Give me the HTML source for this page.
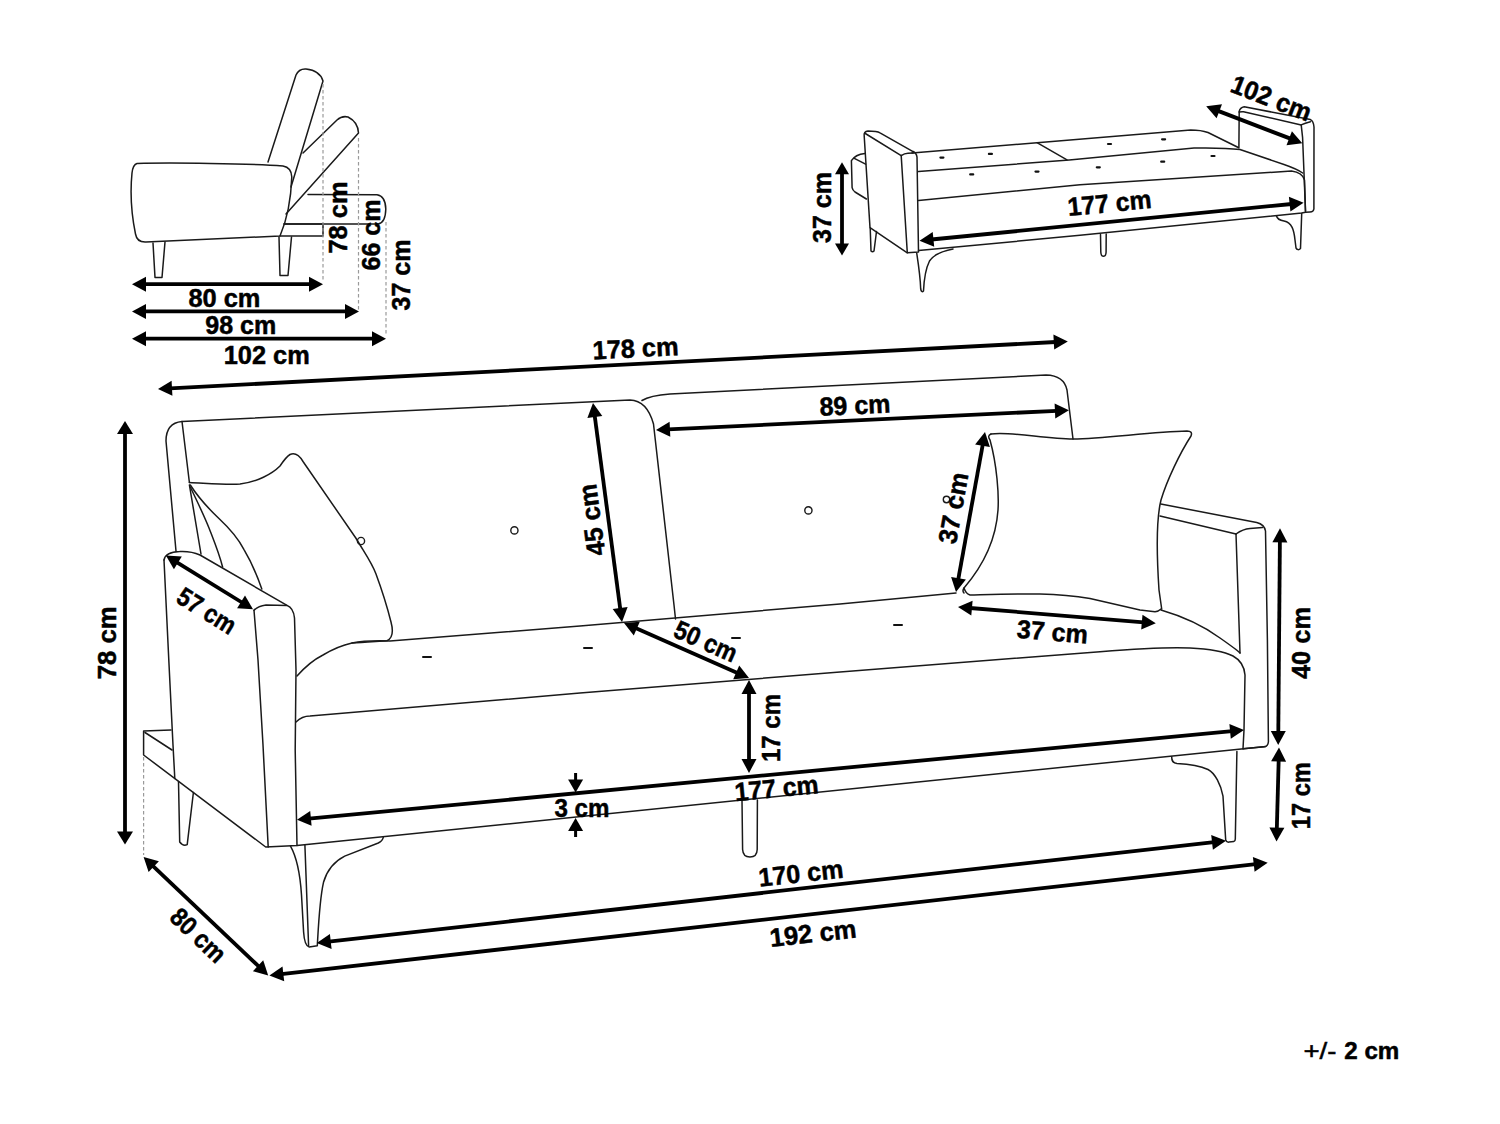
<!DOCTYPE html>
<html><head><meta charset="utf-8"><style>
html,body{margin:0;padding:0;background:#fff;}
svg{display:block;font-family:"Liberation Sans",sans-serif;}
</style></head><body>
<svg width="1500" height="1124" viewBox="0 0 1500 1124">
<rect width="1500" height="1124" fill="#fff"/>
<path d="M137,163.5 C170,162.5 250,163.5 283,166 Q291.5,167.5 291.8,177 C291,200 286,222 280,236 L146,242 Q137,242.5 135.5,234 C131,212 130.5,188 132,173 Q133,164.5 137,163.5 Z" fill="none" stroke="#1a1a1a" stroke-width="1.5" stroke-linecap="round" stroke-linejoin="round"/>
<path d="M153,243 L155,277.5 L162,277.5 L165,242" fill="none" stroke="#1a1a1a" stroke-width="1.5" stroke-linecap="round" stroke-linejoin="round"/>
<path d="M279,237 L280,275.5 L288,275.5 L291.5,237" fill="none" stroke="#1a1a1a" stroke-width="1.5" stroke-linecap="round" stroke-linejoin="round"/>
<path d="M268,162 L296,75 Q299,68.5 306,69 Q320,70.5 323,81 L291,187" fill="none" stroke="#1a1a1a" stroke-width="1.5" stroke-linecap="round" stroke-linejoin="round"/>
<path d="M303,153 L337,120 Q342,115.5 348,117 Q358,122 358.5,133 L286,214" fill="none" stroke="#1a1a1a" stroke-width="1.5" stroke-linecap="round" stroke-linejoin="round"/>
<path d="M308,194.5 L377,194.8 Q385.5,196 385.8,209 Q385.5,223 378,224 L284,224" fill="none" stroke="#1a1a1a" stroke-width="1.5" stroke-linecap="round" stroke-linejoin="round"/>
<path d="M284,224 L323,224 L323,236 L280,236" fill="none" stroke="#1a1a1a" stroke-width="1.5" stroke-linecap="round" stroke-linejoin="round"/>
<line x1="323" y1="84" x2="323" y2="282" stroke="#9a9a9a" stroke-width="1.2" stroke-dasharray="3.5,2.5"/>
<line x1="358.5" y1="138" x2="358.5" y2="310" stroke="#9a9a9a" stroke-width="1.2" stroke-dasharray="3.5,2.5"/>
<line x1="386" y1="222" x2="386" y2="336" stroke="#9a9a9a" stroke-width="1.2" stroke-dasharray="3.5,2.5"/>
<polygon points="132.0,284.2 146.0,276.7 146.0,291.7" fill="#000"/>
<polygon points="323.0,284.2 309.0,291.7 309.0,276.7" fill="#000"/>
<line x1="144.0" y1="284.2" x2="311.0" y2="284.2" stroke="#000" stroke-width="3.8"/>
<polygon points="132.0,311.4 146.0,303.9 146.0,318.9" fill="#000"/>
<polygon points="359.0,311.4 345.0,318.9 345.0,303.9" fill="#000"/>
<line x1="144.0" y1="311.4" x2="347.0" y2="311.4" stroke="#000" stroke-width="3.8"/>
<polygon points="132.0,338.7 146.0,331.2 146.0,346.2" fill="#000"/>
<polygon points="386.0,338.7 372.0,346.2 372.0,331.2" fill="#000"/>
<line x1="144.0" y1="338.7" x2="374.0" y2="338.7" stroke="#000" stroke-width="3.8"/>
<text x="0" y="0" transform="translate(224.4,307.2) rotate(0.00)" text-anchor="middle" font-size="26" font-weight="bold" stroke="#000" stroke-width="0.5" textLength="72.0" lengthAdjust="spacingAndGlyphs">80 cm</text>
<text x="0" y="0" transform="translate(240.8,334.4) rotate(0.00)" text-anchor="middle" font-size="26" font-weight="bold" stroke="#000" stroke-width="0.5" textLength="71.0" lengthAdjust="spacingAndGlyphs">98 cm</text>
<text x="0" y="0" transform="translate(266.7,363.9) rotate(0.00)" text-anchor="middle" font-size="26" font-weight="bold" stroke="#000" stroke-width="0.5" textLength="86.0" lengthAdjust="spacingAndGlyphs">102 cm</text>
<text x="0" y="0" transform="translate(347.2,217.5) rotate(-90.00)" text-anchor="middle" font-size="26" font-weight="bold" stroke="#000" stroke-width="0.5" textLength="72.0" lengthAdjust="spacingAndGlyphs">78 cm</text>
<text x="0" y="0" transform="translate(380.2,235.0) rotate(-90.00)" text-anchor="middle" font-size="26" font-weight="bold" stroke="#000" stroke-width="0.5" textLength="71.0" lengthAdjust="spacingAndGlyphs">66 cm</text>
<text x="0" y="0" transform="translate(410.2,275.0) rotate(-90.00)" text-anchor="middle" font-size="26" font-weight="bold" stroke="#000" stroke-width="0.5" textLength="71.0" lengthAdjust="spacingAndGlyphs">37 cm</text>
<path d="M865,153.5 C860,154 854,156.5 851.4,160.6 L852.1,187.6 Q852.5,190 855,192 L866.4,199" fill="none" stroke="#1a1a1a" stroke-width="1.5" stroke-linecap="round" stroke-linejoin="round"/>
<path d="M854.3,158.4 L865.6,164.1" fill="none" stroke="#1a1a1a" stroke-width="1.5" stroke-linecap="round" stroke-linejoin="round"/>
<path d="M870,227.6 L864.2,136 Q863.5,131.5 868,131 L875.6,131.4 Q878.5,131.8 880,132.8 L912.6,151.3 Q916.5,153 917,157 L918.5,252 L907.3,252.8 Z" fill="none" stroke="#1a1a1a" stroke-width="1.5" stroke-linecap="round" stroke-linejoin="round"/>
<path d="M865.3,133.5 L901.2,155.6 Q904.5,153.2 908,153.2 L913.3,153.1" fill="none" stroke="#1a1a1a" stroke-width="1.5" stroke-linecap="round" stroke-linejoin="round"/>
<path d="M901.2,155.6 L907.3,252.8" fill="none" stroke="#1a1a1a" stroke-width="1.5" stroke-linecap="round" stroke-linejoin="round"/>
<path d="M870.2,228 L871,251 Q872.5,252.5 874,251 L876.5,231.5" fill="none" stroke="#1a1a1a" stroke-width="1.5" stroke-linecap="round" stroke-linejoin="round"/>
<path d="M916.7,253 C919,268 920.5,282 920.7,289 Q921.5,293 923.5,291 C924,280 925,270 929.5,261 C935,253 945,250.5 953,249" fill="none" stroke="#1a1a1a" stroke-width="1.5" stroke-linecap="round" stroke-linejoin="round"/>
<path d="M912,153 L1037,142.7 L1190.7,130 Q1201,130 1208,132.5 L1238.3,147.5" fill="none" stroke="#1a1a1a" stroke-width="1.5" stroke-linecap="round" stroke-linejoin="round"/>
<path d="M1037,142.7 L1067,159.8" fill="none" stroke="#1a1a1a" stroke-width="1.5" stroke-linecap="round" stroke-linejoin="round"/>
<path d="M918.5,171.6 L1069.3,159.9 L1194,148 Q1225,147.5 1240,149.5 L1284,164.5 Q1297,169 1302.7,173" fill="none" stroke="#1a1a1a" stroke-width="1.5" stroke-linecap="round" stroke-linejoin="round"/>
<path d="M918.5,200.5 L1080,184.7 L1291.5,171 Q1302.5,172.5 1304.5,180 L1305.5,211.5" fill="none" stroke="#1a1a1a" stroke-width="1.5" stroke-linecap="round" stroke-linejoin="round"/>
<path d="M918.5,250.5 L1080,235.3 L1301.7,213 L1305.5,212.3" fill="none" stroke="#1a1a1a" stroke-width="1.5" stroke-linecap="round" stroke-linejoin="round"/>
<path d="M1238.9,148 L1239.2,111.4 Q1240,107.5 1244.2,106.7 L1310.4,119.6 Q1313.5,121 1314,127 L1313.9,209 Q1313.5,212 1310,212 L1305.5,212.3" fill="none" stroke="#1a1a1a" stroke-width="1.5" stroke-linecap="round" stroke-linejoin="round"/>
<path d="M1239.2,112 Q1241,111.5 1243.5,111.7 L1301.2,124.9 Q1305,123 1310.4,121.7" fill="none" stroke="#1a1a1a" stroke-width="1.5" stroke-linecap="round" stroke-linejoin="round"/>
<path d="M1301.2,124.9 L1302.6,137.7 L1305.5,211" fill="none" stroke="#1a1a1a" stroke-width="1.5" stroke-linecap="round" stroke-linejoin="round"/>
<path d="M1276.5,216 Q1277.5,220 1284,221 C1292,222.5 1294,230 1295,240 L1296,248 Q1298,251 1300.5,248.5 L1301.7,213.5" fill="none" stroke="#1a1a1a" stroke-width="1.5" stroke-linecap="round" stroke-linejoin="round"/>
<path d="M1100.5,234.5 L1100.8,252 Q1101,256.3 1103.4,256.3 Q1106,256.3 1106.1,252 L1106.2,234" fill="none" stroke="#1a1a1a" stroke-width="1.5" stroke-linecap="round" stroke-linejoin="round"/>
<line x1="940.4" y1="157.6" x2="943.4" y2="157.6" stroke="#111" stroke-width="2.2" stroke-linecap="round"/>
<line x1="988.9" y1="153.9" x2="991.9" y2="153.9" stroke="#111" stroke-width="2.2" stroke-linecap="round"/>
<line x1="970.2" y1="174.4" x2="973.2" y2="174.4" stroke="#111" stroke-width="2.2" stroke-linecap="round"/>
<line x1="1035.5" y1="171.6" x2="1038.5" y2="171.6" stroke="#111" stroke-width="2.2" stroke-linecap="round"/>
<line x1="1108.0" y1="144" x2="1111.0" y2="144" stroke="#111" stroke-width="2.2" stroke-linecap="round"/>
<line x1="1162.1" y1="139.3" x2="1165.1" y2="139.3" stroke="#111" stroke-width="2.2" stroke-linecap="round"/>
<line x1="1096.8" y1="167.3" x2="1099.8" y2="167.3" stroke="#111" stroke-width="2.2" stroke-linecap="round"/>
<line x1="1161.2" y1="161.7" x2="1164.2" y2="161.7" stroke="#111" stroke-width="2.2" stroke-linecap="round"/>
<line x1="1211.5" y1="156" x2="1214.5" y2="156" stroke="#111" stroke-width="2.2" stroke-linecap="round"/>
<polygon points="842.0,162.3 849.0,174.3 835.0,174.3" fill="#000"/>
<polygon points="842.0,255.6 835.0,243.6 849.0,243.6" fill="#000"/>
<line x1="842.0" y1="172.3" x2="842.0" y2="245.6" stroke="#000" stroke-width="3.8"/>
<polygon points="919.5,240.7 932.7,231.9 934.2,246.8" fill="#000"/>
<polygon points="1303.6,202.8 1290.4,211.6 1288.9,196.7" fill="#000"/>
<line x1="931.4" y1="239.5" x2="1291.7" y2="204.0" stroke="#000" stroke-width="3.8"/>
<polygon points="1206.2,106.3 1222.0,104.3 1216.6,118.3" fill="#000"/>
<polygon points="1302.3,143.2 1286.5,145.2 1291.9,131.2" fill="#000"/>
<line x1="1217.4" y1="110.6" x2="1291.1" y2="138.9" stroke="#000" stroke-width="4"/>
<text x="0" y="0" transform="translate(831.0,207.5) rotate(-90.00)" text-anchor="middle" font-size="26" font-weight="bold" stroke="#000" stroke-width="0.5" textLength="71.0" lengthAdjust="spacingAndGlyphs">37 cm</text>
<text x="0" y="0" transform="translate(1110.4,212.0) rotate(-5.60)" text-anchor="middle" font-size="26" font-weight="bold" stroke="#000" stroke-width="0.5" textLength="84.0" lengthAdjust="spacingAndGlyphs">177 cm</text>
<text x="0" y="0" transform="translate(1268.1,106.6) rotate(21.30)" text-anchor="middle" font-size="26" font-weight="bold" stroke="#000" stroke-width="0.5" textLength="84.0" lengthAdjust="spacingAndGlyphs">102 cm</text>
<path d="M176,551 L166,441 Q166,423 182,421.5 L630,400 Q647,400.5 653.5,424 L674,605 L675.5,619" fill="none" stroke="#1a1a1a" stroke-width="1.5" stroke-linecap="round" stroke-linejoin="round"/>
<path d="M182,421.5 L189.4,482.5" fill="none" stroke="#1a1a1a" stroke-width="1.5" stroke-linecap="round" stroke-linejoin="round"/>
<path d="M642,400.5 Q650,395.5 670,394 L1046,375 Q1064,375.5 1067,390 L1073,439" fill="none" stroke="#1a1a1a" stroke-width="1.5" stroke-linecap="round" stroke-linejoin="round"/>
<path d="M189.4,482.5 C210,483.5 228,485 240,484 C257,482 272,474 280,466 Q286,457 290,454.5 Q297,451.5 303,461.5 L355.8,538 C366,555 372,563 376,574 C383,593 388,610 391,622 Q395,637 387,640.7 C375,641.5 362,642.5 352,643" fill="none" stroke="#1a1a1a" stroke-width="1.5" stroke-linecap="round" stroke-linejoin="round"/>
<path d="M189.4,485 L201,554" fill="none" stroke="#1a1a1a" stroke-width="1.5" stroke-linecap="round" stroke-linejoin="round"/>
<path d="M190.3,487 C198,503 205,518 209,528 C214,541 219,553 222.6,567" fill="none" stroke="#1a1a1a" stroke-width="1.5" stroke-linecap="round" stroke-linejoin="round"/>
<path d="M190.3,485 C200,500 210,510 218.7,518.3 C228,527 238,538 244,549.6 C252,563 257,575 261.8,589" fill="none" stroke="#1a1a1a" stroke-width="1.5" stroke-linecap="round" stroke-linejoin="round"/>
<circle cx="361" cy="541" r="3.6" fill="none" stroke="#1a1a1a" stroke-width="1.4"/>
<path d="M164,560 Q165.5,552 179.6,551.6 Q191,551 200,555 L287,605.4 Q293.5,608 294.5,618 L296,670 L295.2,750 L297,845.5 L265.7,847 L143.6,755 L143.6,731 L171,730" fill="none" stroke="#1a1a1a" stroke-width="1.5" stroke-linecap="round" stroke-linejoin="round"/>
<path d="M254,610.3 Q258,606 266,605 L287,605.4" fill="none" stroke="#1a1a1a" stroke-width="1.5" stroke-linecap="round" stroke-linejoin="round"/>
<path d="M254,610.3 L258,660 L263,745 L268.2,847" fill="none" stroke="#1a1a1a" stroke-width="1.5" stroke-linecap="round" stroke-linejoin="round"/>
<path d="M164,560 L168.8,660 L173,745 L174.8,778.5" fill="none" stroke="#1a1a1a" stroke-width="1.5" stroke-linecap="round" stroke-linejoin="round"/>
<path d="M145,732.5 L172,750" fill="none" stroke="#1a1a1a" stroke-width="1.5" stroke-linecap="round" stroke-linejoin="round"/>
<path d="M178.5,781.5 L179.7,842 Q183,846.5 187.2,844.6 L193.4,792.5" fill="none" stroke="#1a1a1a" stroke-width="1.5" stroke-linecap="round" stroke-linejoin="round"/>
<path d="M297,676 C305,667 315,659 323,655 C333,649 343,645 352,643 C362,641 375,640.5 390,641 L580,626 L840,604 L956,593" fill="none" stroke="#1a1a1a" stroke-width="1.5" stroke-linecap="round" stroke-linejoin="round"/>
<path d="M964,588 Q966,594 970,595 C990,594.5 1020,593.5 1040,594 C1060,594.5 1075,596 1090,598.5 L1140,610 L1155,611.7 Q1158.5,611.5 1161,609" fill="none" stroke="#1a1a1a" stroke-width="1.5" stroke-linecap="round" stroke-linejoin="round"/>
<path d="M991,434 C1010,431 1045,439 1073,439 C1105,438.5 1150,432 1187,431 Q1193,431 1191,436 C1180,453 1167,480 1161,500 C1156,520 1157,560 1159,590 L1161.7,609" fill="none" stroke="#1a1a1a" stroke-width="1.5" stroke-linecap="round" stroke-linejoin="round"/>
<path d="M991,434 Q987,435.5 990,440 C997,465 999,495 998,510 C996,540 982,567 964,588 Q962,591 964,593" fill="none" stroke="#1a1a1a" stroke-width="1.5" stroke-linecap="round" stroke-linejoin="round"/>
<path d="M1160.8,504 L1256.7,522.5 Q1264.5,524.5 1265.5,531 L1267.4,640 L1268.4,741.8 Q1268,746.5 1264.4,746.7 L1243,748.7" fill="none" stroke="#1a1a1a" stroke-width="1.5" stroke-linecap="round" stroke-linejoin="round"/>
<path d="M1160,516 L1236,534" fill="none" stroke="#1a1a1a" stroke-width="1.5" stroke-linecap="round" stroke-linejoin="round"/>
<path d="M1236,534 Q1243,529 1250,528.5 L1262.5,527.5" fill="none" stroke="#1a1a1a" stroke-width="1.5" stroke-linecap="round" stroke-linejoin="round"/>
<path d="M1236,534 L1240,653" fill="none" stroke="#1a1a1a" stroke-width="1.5" stroke-linecap="round" stroke-linejoin="round"/>
<path d="M296,722 C300,718 305,716 310,716 L580,693 L840,672 L1100,651.7 C1140,648.5 1170,647 1190,648 C1210,649 1225,652 1233,656 Q1244,662 1245,675 L1244,730 L1243,748.7" fill="none" stroke="#1a1a1a" stroke-width="1.5" stroke-linecap="round" stroke-linejoin="round"/>
<path d="M1161,610 C1185,617 1205,627 1220,638 C1230,645 1237,650 1240,653" fill="none" stroke="#1a1a1a" stroke-width="1.5" stroke-linecap="round" stroke-linejoin="round"/>
<path d="M297,845.5 L1265.7,746.5" fill="none" stroke="#1a1a1a" stroke-width="1.5" stroke-linecap="round" stroke-linejoin="round"/>
<path d="M290.5,846.2 C296,856 300,872 301.5,895 L303.6,932 Q304.5,946 309.2,947 L317.3,945.8 C318.5,925 319.5,900 323.5,882.3 C327,870 335,861 344.7,856.1 L378.3,843 Q382.5,841 383.3,837.4" fill="none" stroke="#1a1a1a" stroke-width="1.5" stroke-linecap="round" stroke-linejoin="round"/>
<path d="M304.9,845 L308.6,945.8" fill="none" stroke="#1a1a1a" stroke-width="1.5" stroke-linecap="round" stroke-linejoin="round"/>
<path d="M742,800 L742.6,849.5 Q743,857 750,857 Q757,857 757.2,849.5 L757.4,800" fill="none" stroke="#1a1a1a" stroke-width="1.5" stroke-linecap="round" stroke-linejoin="round"/>
<path d="M1171.7,756.7 Q1171.5,763 1177,763.6 C1185,764 1198,765 1208,769.5 C1215,773 1221,785 1223,796.2 L1225.7,840 Q1226.5,842.5 1229,842.1 L1233.7,841.6 Q1235.3,841 1235.3,838.9 L1236.9,751.4" fill="none" stroke="#1a1a1a" stroke-width="1.5" stroke-linecap="round" stroke-linejoin="round"/>
<circle cx="514.4" cy="530.4" r="3.6" fill="none" stroke="#1a1a1a" stroke-width="1.4"/>
<circle cx="808.4" cy="510.4" r="3.6" fill="none" stroke="#1a1a1a" stroke-width="1.4"/>
<circle cx="946.5" cy="499.5" r="3.2" fill="none" stroke="#1a1a1a" stroke-width="1.4"/>
<line x1="423.0" y1="657" x2="431.0" y2="657" stroke="#111" stroke-width="2" stroke-linecap="round"/>
<line x1="584.0" y1="648" x2="592.0" y2="648" stroke="#111" stroke-width="2" stroke-linecap="round"/>
<line x1="732.0" y1="638" x2="740.0" y2="638" stroke="#111" stroke-width="2" stroke-linecap="round"/>
<line x1="894.0" y1="625" x2="902.0" y2="625" stroke="#111" stroke-width="2" stroke-linecap="round"/>
<line x1="143.6" y1="757" x2="143.6" y2="855" stroke="#9a9a9a" stroke-width="1.2" stroke-dasharray="3.5,2.5"/>
<polygon points="158.0,389.0 171.6,380.8 172.4,395.8" fill="#000"/>
<polygon points="1067.8,341.4 1054.2,349.6 1053.4,334.6" fill="#000"/>
<line x1="170.0" y1="388.4" x2="1055.8" y2="342.0" stroke="#000" stroke-width="3.8"/>
<polygon points="125.0,421.0 133.0,434.0 117.0,434.0" fill="#000"/>
<polygon points="125.0,844.6 117.0,831.6 133.0,831.6" fill="#000"/>
<line x1="125.0" y1="432.0" x2="125.0" y2="833.6" stroke="#000" stroke-width="3.8"/>
<polygon points="165.9,555.5 181.8,556.5 173.9,569.2" fill="#000"/>
<polygon points="253.0,609.3 237.1,608.3 245.0,595.6" fill="#000"/>
<line x1="176.1" y1="561.8" x2="242.8" y2="603.0" stroke="#000" stroke-width="3.8"/>
<polygon points="143.6,857.0 158.9,861.2 148.6,872.1" fill="#000"/>
<polygon points="268.2,975.4 252.9,971.2 263.2,960.3" fill="#000"/>
<line x1="152.3" y1="865.3" x2="259.5" y2="967.1" stroke="#000" stroke-width="3.8"/>
<polygon points="593.0,403.0 602.3,415.9 587.4,417.9" fill="#000"/>
<polygon points="622.0,622.0 612.7,609.1 627.6,607.1" fill="#000"/>
<line x1="594.6" y1="414.9" x2="620.4" y2="610.1" stroke="#000" stroke-width="3.8"/>
<polygon points="656.0,430.0 669.6,421.8 670.3,436.8" fill="#000"/>
<polygon points="1068.9,410.2 1055.3,418.4 1054.6,403.4" fill="#000"/>
<line x1="668.0" y1="429.4" x2="1056.9" y2="410.8" stroke="#000" stroke-width="3.8"/>
<polygon points="985.0,432.0 989.9,447.1 975.1,444.4" fill="#000"/>
<polygon points="956.0,592.0 951.1,576.9 965.9,579.6" fill="#000"/>
<line x1="982.9" y1="443.8" x2="958.1" y2="580.2" stroke="#000" stroke-width="3.8"/>
<polygon points="958.0,607.0 972.6,600.7 971.3,615.6" fill="#000"/>
<polygon points="1155.8,623.3 1141.2,629.6 1142.5,614.7" fill="#000"/>
<line x1="970.0" y1="608.0" x2="1143.8" y2="622.3" stroke="#000" stroke-width="3.8"/>
<polygon points="624.0,623.0 639.8,621.8 633.8,635.5" fill="#000"/>
<polygon points="749.0,678.0 733.2,679.2 739.2,665.5" fill="#000"/>
<line x1="635.0" y1="627.8" x2="738.0" y2="673.2" stroke="#000" stroke-width="3.8"/>
<polygon points="749.0,680.0 756.5,694.0 741.5,694.0" fill="#000"/>
<polygon points="749.0,773.0 741.5,759.0 756.5,759.0" fill="#000"/>
<line x1="749.0" y1="692.0" x2="749.0" y2="761.0" stroke="#000" stroke-width="3.8"/>
<polygon points="1280.0,528.3 1287.4,542.4 1272.4,542.2" fill="#000"/>
<polygon points="1278.2,745.0 1270.8,730.9 1285.8,731.1" fill="#000"/>
<line x1="1279.9" y1="540.3" x2="1278.3" y2="733.0" stroke="#000" stroke-width="3.8"/>
<polygon points="1279.0,747.5 1286.1,761.7 1271.1,761.3" fill="#000"/>
<polygon points="1276.5,841.6 1269.4,827.4 1284.4,827.8" fill="#000"/>
<line x1="1278.7" y1="759.5" x2="1276.8" y2="829.6" stroke="#000" stroke-width="3.8"/>
<polygon points="297.0,819.7 310.2,810.9 311.6,825.8" fill="#000"/>
<polygon points="1244.0,730.0 1230.8,738.8 1229.4,723.9" fill="#000"/>
<line x1="308.9" y1="818.6" x2="1232.1" y2="731.1" stroke="#000" stroke-width="3.8"/>
<polygon points="316.8,943.0 329.9,934.0 331.6,948.9" fill="#000"/>
<polygon points="1226.0,840.8 1212.9,849.8 1211.2,834.9" fill="#000"/>
<line x1="328.7" y1="941.7" x2="1214.1" y2="842.1" stroke="#000" stroke-width="3.8"/>
<polygon points="269.4,975.4 282.5,966.4 284.2,981.3" fill="#000"/>
<polygon points="1267.7,862.8 1254.6,871.8 1252.9,856.9" fill="#000"/>
<line x1="281.3" y1="974.1" x2="1255.8" y2="864.1" stroke="#000" stroke-width="3.8"/>
<polygon points="575.6,792.5 568.1,779.5 583.1,779.5" fill="#000"/>
<line x1="575.6" y1="773.0" x2="575.6" y2="781.5" stroke="#000" stroke-width="3"/>
<polygon points="575.6,818.0 583.1,831.0 568.1,831.0" fill="#000"/>
<line x1="575.6" y1="837.0" x2="575.6" y2="829.0" stroke="#000" stroke-width="3"/>
<text x="0" y="0" transform="translate(636.0,357.2) rotate(-3.00)" text-anchor="middle" font-size="26" font-weight="bold" stroke="#000" stroke-width="0.5" textLength="86.0" lengthAdjust="spacingAndGlyphs">178 cm</text>
<text x="0" y="0" transform="translate(116.0,642.8) rotate(-90.00)" text-anchor="middle" font-size="26" font-weight="bold" stroke="#000" stroke-width="0.5" textLength="73.0" lengthAdjust="spacingAndGlyphs">78 cm</text>
<text x="0" y="0" transform="translate(202.1,618.4) rotate(31.70)" text-anchor="middle" font-size="26" font-weight="bold" stroke="#000" stroke-width="0.5" textLength="64.0" lengthAdjust="spacingAndGlyphs">57 cm</text>
<text x="0" y="0" transform="translate(192.1,941.7) rotate(43.50)" text-anchor="middle" font-size="26" font-weight="bold" stroke="#000" stroke-width="0.5" textLength="66.0" lengthAdjust="spacingAndGlyphs">80 cm</text>
<text x="0" y="0" transform="translate(600.7,518.8) rotate(-97.50)" text-anchor="middle" font-size="26" font-weight="bold" stroke="#000" stroke-width="0.5" textLength="72.0" lengthAdjust="spacingAndGlyphs">45 cm</text>
<text x="0" y="0" transform="translate(855.4,414.2) rotate(-2.70)" text-anchor="middle" font-size="26" font-weight="bold" stroke="#000" stroke-width="0.5" textLength="71.0" lengthAdjust="spacingAndGlyphs">89 cm</text>
<text x="0" y="0" transform="translate(962.1,509.7) rotate(-79.70)" text-anchor="middle" font-size="26" font-weight="bold" stroke="#000" stroke-width="0.5" textLength="72.0" lengthAdjust="spacingAndGlyphs">37 cm</text>
<text x="0" y="0" transform="translate(702.3,649.5) rotate(23.70)" text-anchor="middle" font-size="26" font-weight="bold" stroke="#000" stroke-width="0.5" textLength="66.0" lengthAdjust="spacingAndGlyphs">50 cm</text>
<text x="0" y="0" transform="translate(779.8,728.0) rotate(-90.00)" text-anchor="middle" font-size="26" font-weight="bold" stroke="#000" stroke-width="0.5" textLength="68.0" lengthAdjust="spacingAndGlyphs">17 cm</text>
<text x="0" y="0" transform="translate(1051.7,640.7) rotate(4.70)" text-anchor="middle" font-size="26" font-weight="bold" stroke="#000" stroke-width="0.5" textLength="71.0" lengthAdjust="spacingAndGlyphs">37 cm</text>
<text x="0" y="0" transform="translate(1310.2,643.0) rotate(-90.00)" text-anchor="middle" font-size="26" font-weight="bold" stroke="#000" stroke-width="0.5" textLength="72.0" lengthAdjust="spacingAndGlyphs">40 cm</text>
<text x="0" y="0" transform="translate(1310.2,795.7) rotate(-90.00)" text-anchor="middle" font-size="26" font-weight="bold" stroke="#000" stroke-width="0.5" textLength="67.0" lengthAdjust="spacingAndGlyphs">17 cm</text>
<text x="0" y="0" transform="translate(777.4,797.2) rotate(-5.40)" text-anchor="middle" font-size="26" font-weight="bold" stroke="#000" stroke-width="0.5" textLength="84.0" lengthAdjust="spacingAndGlyphs">177 cm</text>
<text x="0" y="0" transform="translate(582.0,816.8) rotate(0.00)" text-anchor="middle" font-size="26" font-weight="bold" stroke="#000" stroke-width="0.5" textLength="55.0" lengthAdjust="spacingAndGlyphs">3 cm</text>
<text x="0" y="0" transform="translate(801.8,882.2) rotate(-6.30)" text-anchor="middle" font-size="26" font-weight="bold" stroke="#000" stroke-width="0.5" textLength="85.0" lengthAdjust="spacingAndGlyphs">170 cm</text>
<text x="0" y="0" transform="translate(814.0,942.2) rotate(-6.40)" text-anchor="middle" font-size="26" font-weight="bold" stroke="#000" stroke-width="0.5" textLength="87.0" lengthAdjust="spacingAndGlyphs">192 cm</text>
<text x="0" y="0" transform="translate(1320.0,1059.2) rotate(0.00)" text-anchor="middle" font-size="24" font-weight="normal" stroke="#000" stroke-width="0.5" textLength="33.0" lengthAdjust="spacingAndGlyphs">+/-</text>
<text x="0" y="0" transform="translate(1371.8,1059.2) rotate(0.00)" text-anchor="middle" font-size="24" font-weight="bold" stroke="#000" stroke-width="0.5" textLength="55.0" lengthAdjust="spacingAndGlyphs">2 cm</text>
</svg></body></html>
